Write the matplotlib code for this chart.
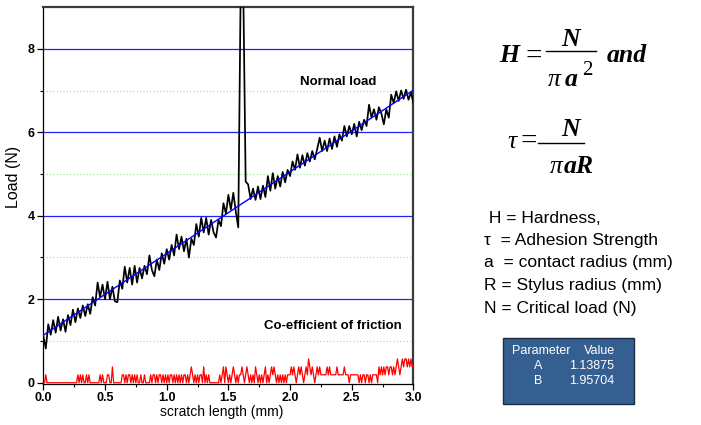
import numpy as np
import matplotlib
matplotlib.use("Agg")
import matplotlib.pyplot as plt
from matplotlib.patches import Rectangle

plt.rcParams['font.family'] = ['Liberation Sans', 'DejaVu Sans']

# scratch length step (mm)
x_step = 0.02
# normal load (N), one row per 0.2 mm
load = [
    1.12, 0.82, 1.40, 1.15, 1.50, 1.20, 1.58, 1.25, 1.52, 1.22,
    1.62, 1.38, 1.75, 1.45, 1.78, 1.55, 1.85, 1.60, 1.88, 1.65,
    2.05, 1.85, 2.40, 2.05, 2.35, 2.00, 2.42, 2.00, 2.30, 1.95,
    1.93, 2.45, 2.25, 2.78, 2.40, 2.75, 2.35, 2.80, 2.40, 2.75,
    2.50, 2.80, 2.60, 3.05, 2.70, 2.55, 2.95, 2.70, 3.10, 2.85,
    3.20, 2.95, 3.30, 3.05, 3.55, 3.20, 3.50, 3.15, 3.45, 3.00,
    3.45, 3.30, 3.80, 3.50, 3.95, 3.60, 3.95, 3.55, 3.90, 3.60,
    3.48, 3.90, 3.75, 4.30, 4.05, 4.50, 4.15, 4.55, 4.10, 3.72,
    9.60, 9.60, 4.82, 4.75, 4.40, 4.65, 4.38, 4.70, 4.40, 4.72,
    4.45, 4.95, 4.60, 5.02, 4.65, 4.95, 4.70, 5.05, 4.80, 5.10,
    4.95, 5.30, 5.10, 5.47, 5.15, 5.45, 5.20, 5.50, 5.30, 5.55,
    5.35, 5.60, 5.87, 5.55, 5.80, 5.55, 5.85, 5.60, 5.90, 5.65,
    5.95, 5.80, 6.15, 5.90, 6.15, 5.95, 6.20, 5.90, 6.25, 6.05,
    6.30, 6.15, 6.66, 6.35, 6.55, 6.30, 6.60, 6.45, 6.19, 6.55,
    6.35, 6.90, 6.70, 6.98, 6.75, 7.00, 6.80, 7.02, 6.78, 6.95,
    6.70,
]
# friction as level index, one string per 0.1 mm at 0.01 mm step (level step 0.19)
fric_step = 0.01
friction_levels = [
    "0010000000", "0000000000", "0000000010", "1010010100", "0000001010",
    "0011002000", "0000110101", "1010101001", "0010000101", "1010110101",
    "0101101010", "1010110101", "2101010110", "2010100000", "0001012021",
    "0101210101", "1210121010", "1021010101", "2010121210", "1010101011",
    "1212101212", "1012132121", "0121211111", "2121111121", "1111211101",
    "1111110101", "1011010111", "1021212122", "1221212321", "2323323232",
    "2",
]
level_height = 0.19
# linear fit Load = A + B*x
fit_A = 1.13875
fit_B = 1.95704
fit_x = [0.0, 3.0]

params = ["A", "B"]
param_values = ["1.13875", "1.95704"]

legend_lines = [" H = Hardness,", "\u03c4  = Adhesion Strength", "a  = contact radius (mm)",
                "R = Stylus radius (mm)", "N = Critical load (N)"]

x = np.arange(len(load)) * x_step
fric = np.array([int(c) for c in "".join(friction_levels)]) * level_height
xf = np.arange(len(fric)) * fric_step
fit_y = [fit_A + fit_B * v for v in fit_x]

fig = plt.figure(figsize=(7.01, 4.25), dpi=100)

# overlay in pixel coordinates for the right-hand text
ov = fig.add_axes([0, 0, 1, 1])
ov.set_xlim(0, 701)
ov.set_ylim(425, 0)
ov.axis('off')

ax = fig.add_axes([0.0618, 0.0965, 0.528, 0.887])

for g in [2, 4, 6, 8]:
    ax.axhline(g, color='#2020ff', lw=0.9, zorder=1)
for g in [1, 3, 5, 7]:
    ax.axhline(g, color='#88ee88', lw=0.8, ls=(0, (1, 2)), zorder=1)

ax.plot(x, load, color='black', lw=1.25, zorder=3)
ax.plot(fit_x, fit_y, color='#0000ff', lw=1.0, zorder=4)
ax.plot(xf, fric, color='#ff0000', lw=0.9, zorder=5, clip_on=False)

ax.set_xlim(0, 3.0)
ax.set_ylim(-0.03, 9.0)
ax.set_xticks(np.arange(0, 3.01, 0.5))
ax.set_xticks(np.arange(0.25, 3.0, 0.5), minor=True)
ax.set_yticks([0, 2, 4, 6, 8])
ax.set_yticks([1, 3, 5, 7], minor=True)
ax.set_xticklabels([f"{v:.1f}" for v in np.arange(0, 3.01, 0.5)])
ax.tick_params(which='major', direction='out', length=4, width=0.9, labelsize=9, pad=2)
ax.tick_params(which='minor', direction='out', length=2.5, width=0.8)
for lab in ax.get_xticklabels() + ax.get_yticklabels():
    lab.set_fontweight('bold')

for s in ['left', 'bottom']:
    ax.spines[s].set_linewidth(0.9)
for s in ['top', 'right']:
    ax.spines[s].set_linewidth(1.6)
    ax.spines[s].set_color('#3a3a3a')

ax.set_xlabel("scratch length (mm)", fontsize=10)
ax.xaxis.set_label_coords(0.483, -0.056)
ax.set_ylabel("Load (N)", fontsize=11.5)
ax.yaxis.set_label_coords(-0.060, 0.549)

ax.text(2.08, 7.2, "Normal load", fontsize=9.5, fontweight='bold', va='center', zorder=6)
ax.text(1.79, 1.35, "Co-efficient of friction", fontsize=9.5, fontweight='bold', va='center', zorder=6)

# formulas, drawn piece by piece in Times-like serif
fs = 18.5
bi = dict(family='Liberation Serif', style='italic', weight='bold', fontsize=fs, va='baseline')
it = dict(family='Liberation Serif', style='italic', fontsize=fs, va='baseline')
rm = dict(family='Liberation Serif', fontsize=21, va='baseline')

# H = N / (pi a^2) and
ov.text(509, 62, "H", ha='center', **bi)
ov.text(534, 64, "=", ha='center', **rm)
ov.plot([546, 596], [51, 51], color='black', lw=1.0)
ov.text(571, 46, "N", ha='center', **bi)
ov.text(554, 86, "\u03c0", ha='center', **it)
ov.text(571, 86, "a", ha='center', **bi)
ov.text(587, 75, "2", ha='center', family='Liberation Serif', fontsize=15, va='baseline')
ov.text(607, 62, "and", ha='left', **bi)

# tau = N / (pi a R)
ov.text(512, 148, "\u03c4", ha='center', **it)
ov.text(529, 149, "=", ha='center', **rm)
ov.plot([538, 584], [143, 143], color='black', lw=1.0)
ov.text(571, 136, "N", ha='center', **bi)
ov.text(556, 173, "\u03c0", ha='center', **it)
ov.text(564, 173, "aR", ha='left', **bi)

for i, line in enumerate(legend_lines):
    ov.text(484, 218 + i * 22.5, line, fontsize=12.5, va='center')

# parameter box
ov.add_patch(Rectangle((503, 338), 131, 66, facecolor='#365f91', edgecolor='#1c2c44', lw=1.0))
ov.text(512, 351, "Parameter", color='white', fontsize=9, va='center')
ov.text(584, 351, "Value", color='white', fontsize=9, va='center')
for i, (p, v) in enumerate(zip(params, param_values)):
    yy = 366 + i * 14.5
    ov.text(538, yy, p, color='white', fontsize=9, ha='center', va='center')
    ov.text(569, yy, v, color='white', fontsize=9, va='center')

fig.savefig("out.png", dpi=100)
